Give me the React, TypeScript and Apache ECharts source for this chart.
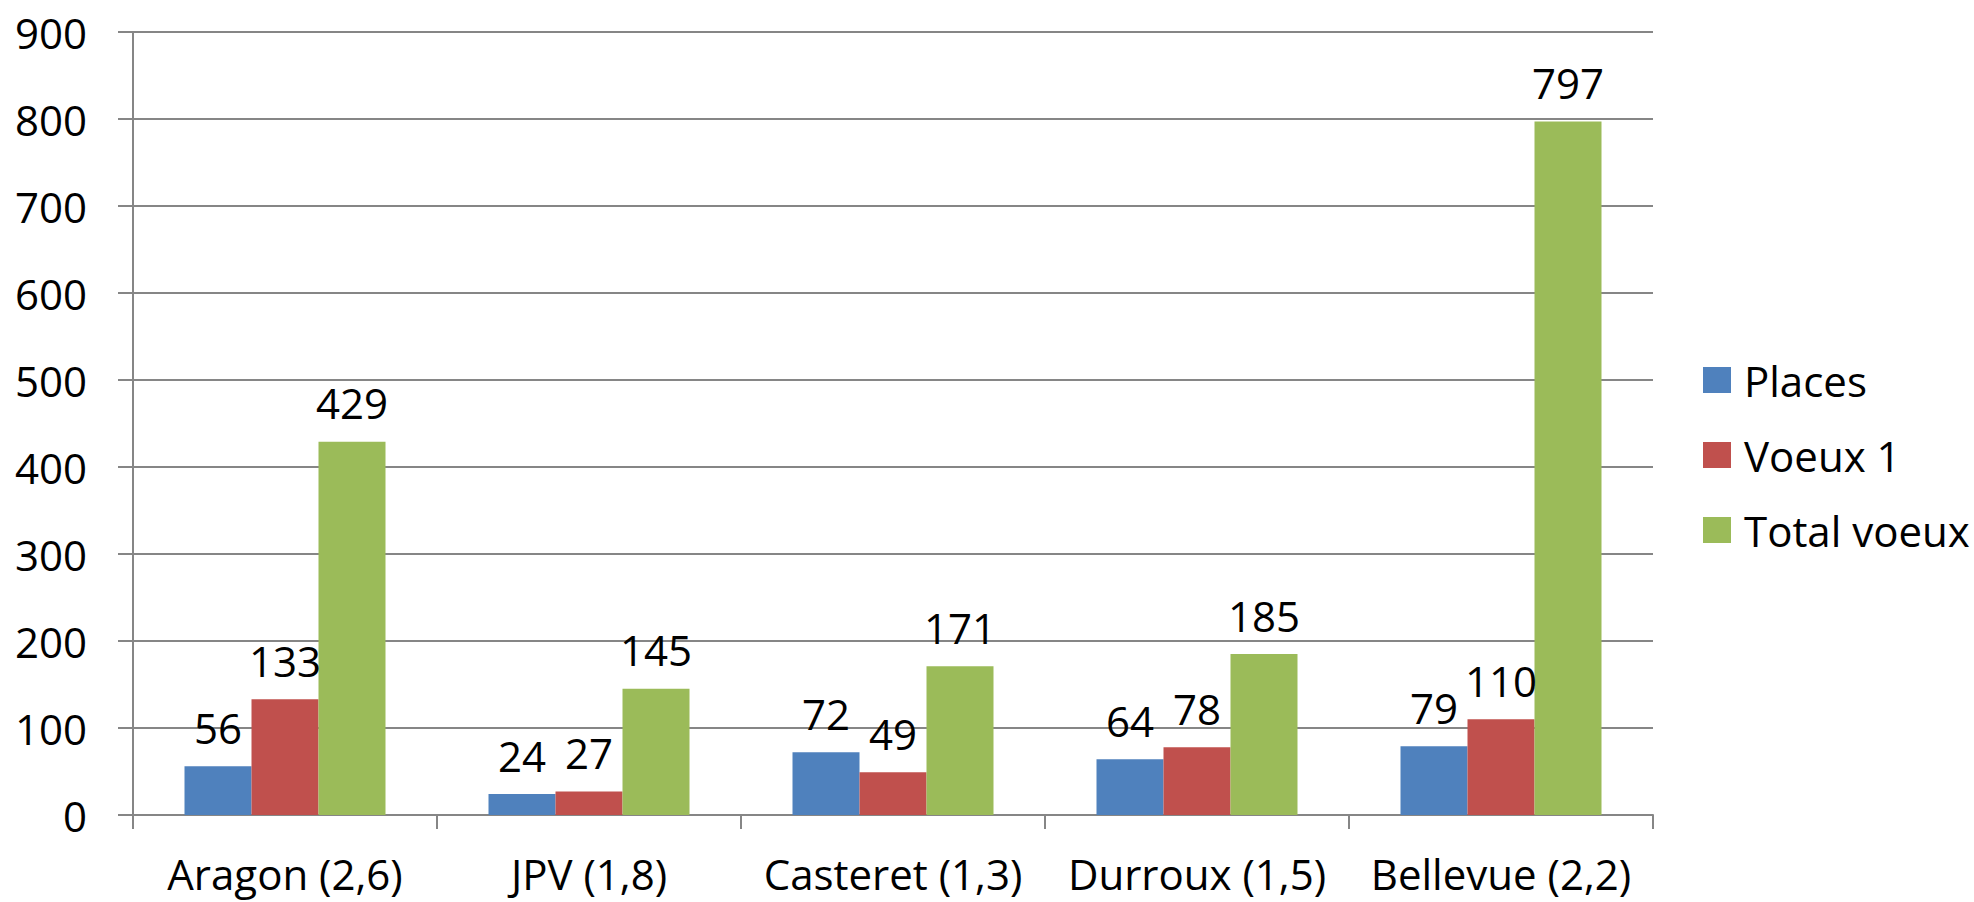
import React, { useEffect, useRef } from "react";
import * as echarts from "echarts";

const categories = ["Aragon (2,6)", "JPV (1,8)", "Casteret (1,3)", "Durroux (1,5)", "Bellevue (2,2)"];
const places = [56, 24, 72, 64, 79];
const voeux1 = [133, 27, 49, 78, 110];
const totalVoeux = [429, 145, 171, 185, 797];
const seriesNames = ["Places", "Voeux 1", "Total voeux"];
const colors = ["#4F81BD", "#C0504D", "#9BBB59"];

const FONT = "'Open Sans', 'Noto Sans', sans-serif";
const FS = 42;

export default function App() {
  const ref = useRef<HTMLDivElement>(null);
  useEffect(() => {
    if (!ref.current) return;
    const chart = echarts.init(ref.current, undefined, { renderer: "svg" });
    const values = [places, voeux1, totalVoeux];
    chart.setOption({
      animation: false,
      backgroundColor: "#ffffff",
      textStyle: { fontFamily: FONT },
      grid: { left: 133, top: 32, right: 321, bottom: 87, containLabel: false },
      legend: {
        orient: "vertical",
        left: 1698,
        top: 349,
        itemWidth: 28,
        itemHeight: 26,
        itemGap: 23,
        icon: "rect",
        textStyle: { fontSize: FS, color: "#000", fontFamily: FONT, lineHeight: 52, padding: [0, 0, 0, 8] },
        data: seriesNames,
      },
      xAxis: {
        type: "category",
        data: categories,
        axisLine: { lineStyle: { color: "#868686", width: 2 } },
        axisTick: { show: true, length: 14, lineStyle: { color: "#868686", width: 2 } },
        axisLabel: { fontSize: FS, color: "#000", fontFamily: FONT, margin: 37, interval: 0 },
      },
      yAxis: {
        type: "value",
        min: 0,
        max: 900,
        interval: 100,
        axisLine: { show: true, lineStyle: { color: "#868686", width: 2 } },
        axisTick: { show: true, length: 15, lineStyle: { color: "#868686", width: 2 } },
        splitLine: { show: true, lineStyle: { color: "#868686", width: 2 } },
        axisLabel: { fontSize: FS, color: "#000", fontFamily: FONT, margin: 46 },
      },
      series: seriesNames.map((name, i) => ({
        name,
        type: "bar",
        data: values[i],
        barWidth: 67,
        barGap: "0%",
        itemStyle: { color: colors[i] },
        label: {
          show: true,
          position: "top",
          distance: 18,
          fontSize: FS,
          color: "#000",
          fontFamily: FONT,
        },
      })),
    });
    return () => chart.dispose();
  }, []);
  return (
    <div
      ref={ref}
      style={{ position: "fixed", left: 0, top: 0, width: 1974, height: 902, background: "#fff" }}
    />
  );
}
